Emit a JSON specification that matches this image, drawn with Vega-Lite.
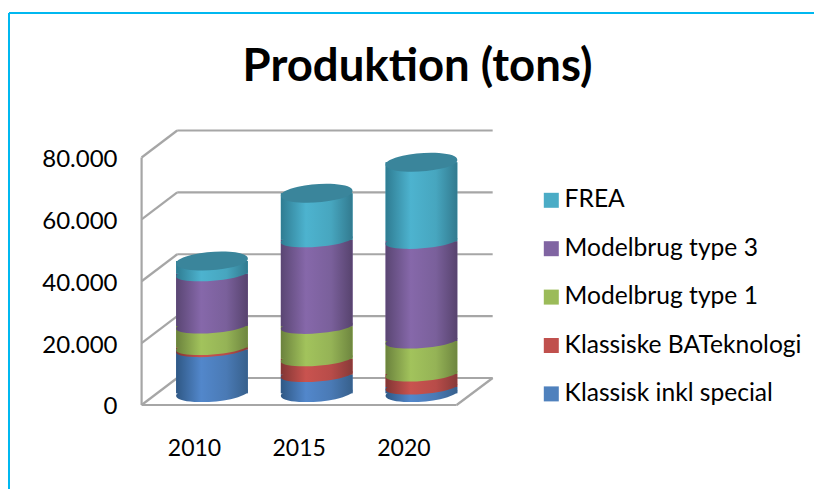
{
"$schema":"https://vega.github.io/schema/vega-lite/v6.json",
"width":805,"height":476,
"autosize":"none",
"padding":{"left":9,"top":13,"right":0,"bottom":0},
"background":"white",
"view":{"stroke":null},
"title":{"text":"Produktion (tons)","font":"Lato","fontWeight":"bold","fontSize":45.5,"color":"#000000","anchor":"middle","frame":"group","dx":6,"baseline":"alphabetic","offset":-114},
"config":{"axis":{"labelFont":"Lato","labelColor":"#000000","grid":false,"domain":false,"ticks":false,"title":null}},
"datasets":{
"rows":[
{"year":2010,"series":"Klassisk inkl special","order":1,"value":14150},
{"year":2010,"series":"Klassiske BATeknologi","order":2,"value":650},
{"year":2010,"series":"Modelbrug type 1","order":3,"value":6950},
{"year":2010,"series":"Modelbrug type 3","order":4,"value":16900},
{"year":2010,"series":"FREA","order":5,"value":4110},
{"year":2015,"series":"Klassisk inkl special","order":1,"value":6080},
{"year":2015,"series":"Klassiske BATeknologi","order":2,"value":5100},
{"year":2015,"series":"Modelbrug type 1","order":3,"value":10470},
{"year":2015,"series":"Modelbrug type 3","order":4,"value":28000},
{"year":2015,"series":"FREA","order":5,"value":14990},
{"year":2020,"series":"Klassisk inkl special","order":1,"value":2040},
{"year":2020,"series":"Klassiske BATeknologi","order":2,"value":4200},
{"year":2020,"series":"Modelbrug type 1","order":3,"value":10660},
{"year":2020,"series":"Modelbrug type 3","order":4,"value":32230},
{"year":2020,"series":"FREA","order":5,"value":25530}
],
"levels":[{"v":0},{"v":20000},{"v":40000},{"v":60000},{"v":80000}]
},
"layer":[
{"data":{"name":"levels"},
 "mark":{"type":"rule","stroke":"#a6a6a6","strokeWidth":2.2,"yOffset":-27,"y2Offset":-27},
 "encoding":{
  "x":{"datum":2008.34,"type":"quantitative","scale":{"domain":[2000.31,2038.74],"nice":false,"zero":false,"padding":0},
   "axis":{"values":[2010,2015,2020],"format":"d","orient":"bottom","offset":-41,"labelOffset":-18,"labelFontSize":23,"labelPadding":0,"labelBaseline":"middle"}},
  "x2":{"datum":2023.4},
  "y":{"field":"v","type":"quantitative","scale":{"domain":[-27152,126707],"nice":false,"zero":false},
   "axis":{"values":[0,20000,40000,60000,80000],"orient":"left","offset":-108,"labelPadding":0,"labelFontSize":24,"labelOffset":2,"labelExpr":"replace(format(datum.value,','),',','.')"}}
 }},
{"data":{"name":"levels"},
 "mark":{"type":"rule","stroke":"#a6a6a6","strokeWidth":2.2,"y2Offset":-27},
 "encoding":{"x":{"datum":2006.64,"type":"quantitative"},"x2":{"datum":2008.34},"y":{"field":"v","type":"quantitative"},"y2":{"field":"v"}}},
{"data":{"values":[{"v":0}]},
 "mark":{"type":"rule","stroke":"#a6a6a6","strokeWidth":2.2,"y2Offset":-27},
 "encoding":{"x":{"datum":2021.68,"type":"quantitative"},"x2":{"datum":2023.4},"y":{"field":"v","type":"quantitative"},"y2":{"field":"v"}}},
{"data":{"values":[{"v":0}]},
 "mark":{"type":"rule","stroke":"#a6a6a6","strokeWidth":2.2},
 "encoding":{"x":{"datum":2006.64,"type":"quantitative"},"x2":{"datum":2021.68},"y":{"field":"v","type":"quantitative"}}},
{"data":{"values":[{"v":0,"t":80000}]},
 "mark":{"type":"rule","stroke":"#a6a6a6","strokeWidth":2.2},
 "encoding":{"x":{"datum":2006.64,"type":"quantitative"},"y":{"field":"v","type":"quantitative"},"y2":{"field":"t"}}},
{"data":{"values":[{"v":-27152,"t":126707}]},
 "mark":{"type":"rule","stroke":"#00b8f0","strokeWidth":2},
 "encoding":{"x":{"datum":2000.31,"type":"quantitative"},"y":{"field":"v","type":"quantitative"},"y2":{"field":"t"}}},
{"data":{"values":[{"t":126707}]},
 "mark":{"type":"rule","stroke":"#00b8f0","strokeWidth":2},
 "encoding":{"x":{"datum":2000.31,"type":"quantitative"},"x2":{"datum":2038.74},"y":{"field":"t","type":"quantitative"}}},
{"data":{"name":"rows"},
 "transform":[{"stack":"value","groupby":["year"],"sort":[{"field":"order"}],"as":["y0","y1"]}],
 "layer":[
  {"mark":{"type":"bar","size":71.7,"orient":"vertical","yOffset":-11.7,"y2Offset":-11.7},
   "encoding":{"x":{"field":"year","type":"quantitative"},"y":{"field":"y1","type":"quantitative"},"y2":{"field":"y0"},
    "color":{"field":"series","type":"nominal","scale":{"domain":["FREA","Modelbrug type 3","Modelbrug type 1","Klassiske BATeknologi","Klassisk inkl special"],"range":["#4bacc6","#8064a2","#9bbb59","#c0504d","#4f81bd"]},
     "legend":{"orient":"none","legendX":530,"legendY":175,"title":null,"symbolType":"square","symbolSize":225,"symbolStrokeWidth":0,"labelFont":"Lato","labelFontSize":24.6,"labelColor":"#000000","rowPadding":23.4,"labelOffset":1,"labelLimit":300,"padding":0}}}},
  {"transform":[{"filter":"datum.order==1"}],"layer":[
   {"mark":{"type":"bar","size":71.7,"orient":"vertical","yOffset":-11.7,"y2Offset":-11.7,"fill":{"gradient":"linear","x1":0,"x2":1,"y1":0,"y2":0,"stops":[{"offset":0,"color":"#2f5885"},{"offset":0.35,"color":"#5287cb"},{"offset":0.7,"color":"#4a7ab5"},{"offset":1,"color":"#37608c"}]}},
    "encoding":{"x":{"field":"year","type":"quantitative"},"y":{"field":"y1","type":"quantitative"},"y2":{"field":"y0"}}},
   {"mark":{"type":"point","filled":true,"opacity":1,"size":5140,"strokeWidth":0,"yOffset":-11.7,"shape":"M-1,0.075A1.003,0.23,-4.3,1,1,1,-0.075A1.003,0.23,-4.3,1,1,-1,0.075Z","fill":{"gradient":"linear","x1":0,"x2":1,"y1":0,"y2":0,"stops":[{"offset":0,"color":"#2f5885"},{"offset":0.35,"color":"#5287cb"},{"offset":0.7,"color":"#4a7ab5"},{"offset":1,"color":"#37608c"}]}},
    "encoding":{"x":{"field":"year","type":"quantitative"},"y":{"field":"y0","type":"quantitative"}}}
  ]},
  {"transform":[{"filter":"datum.order==2"}],"layer":[
   {"mark":{"type":"bar","size":71.7,"orient":"vertical","yOffset":-11.7,"y2Offset":-11.7,"fill":{"gradient":"linear","x1":0,"x2":1,"y1":0,"y2":0,"stops":[{"offset":0,"color":"#823634"},{"offset":0.35,"color":"#c9534f"},{"offset":0.7,"color":"#b84c49"},{"offset":1,"color":"#883a38"}]}},
    "encoding":{"x":{"field":"year","type":"quantitative"},"y":{"field":"y1","type":"quantitative"},"y2":{"field":"y0"}}},
   {"mark":{"type":"point","filled":true,"opacity":1,"size":5140,"strokeWidth":0,"yOffset":-11.7,"shape":"M-1,0.075A1.003,0.195,-4.3,1,1,1,-0.075A1.003,0.195,-4.3,1,1,-1,0.075Z","fill":{"gradient":"linear","x1":0,"x2":1,"y1":0,"y2":0,"stops":[{"offset":0,"color":"#823634"},{"offset":0.35,"color":"#c9534f"},{"offset":0.7,"color":"#b84c49"},{"offset":1,"color":"#883a38"}]}},
    "encoding":{"x":{"field":"year","type":"quantitative"},"y":{"field":"y0","type":"quantitative"}}}
  ]},
  {"transform":[{"filter":"datum.order==3"}],"layer":[
   {"mark":{"type":"bar","size":71.7,"orient":"vertical","yOffset":-11.7,"y2Offset":-11.7,"fill":{"gradient":"linear","x1":0,"x2":1,"y1":0,"y2":0,"stops":[{"offset":0,"color":"#6b823d"},{"offset":0.35,"color":"#a2c35c"},{"offset":0.7,"color":"#95b356"},{"offset":1,"color":"#6e863f"}]}},
    "encoding":{"x":{"field":"year","type":"quantitative"},"y":{"field":"y1","type":"quantitative"},"y2":{"field":"y0"}}},
   {"mark":{"type":"point","filled":true,"opacity":1,"size":5140,"strokeWidth":0,"yOffset":-11.7,"shape":"M-1,0.075A1.003,0.195,-4.3,1,1,1,-0.075A1.003,0.195,-4.3,1,1,-1,0.075Z","fill":{"gradient":"linear","x1":0,"x2":1,"y1":0,"y2":0,"stops":[{"offset":0,"color":"#6b823d"},{"offset":0.35,"color":"#a2c35c"},{"offset":0.7,"color":"#95b356"},{"offset":1,"color":"#6e863f"}]}},
    "encoding":{"x":{"field":"year","type":"quantitative"},"y":{"field":"y0","type":"quantitative"}}}
  ]},
  {"transform":[{"filter":"datum.order==4"}],"layer":[
   {"mark":{"type":"bar","size":71.7,"orient":"vertical","yOffset":-11.7,"y2Offset":-11.7,"fill":{"gradient":"linear","x1":0,"x2":1,"y1":0,"y2":0,"stops":[{"offset":0,"color":"#5a4673"},{"offset":0.35,"color":"#8668aa"},{"offset":0.7,"color":"#7a609b"},{"offset":1,"color":"#57436e"}]}},
    "encoding":{"x":{"field":"year","type":"quantitative"},"y":{"field":"y1","type":"quantitative"},"y2":{"field":"y0"}}},
   {"mark":{"type":"point","filled":true,"opacity":1,"size":5140,"strokeWidth":0,"yOffset":-11.7,"shape":"M-1,0.075A1.003,0.195,-4.3,1,1,1,-0.075A1.003,0.195,-4.3,1,1,-1,0.075Z","fill":{"gradient":"linear","x1":0,"x2":1,"y1":0,"y2":0,"stops":[{"offset":0,"color":"#5a4673"},{"offset":0.35,"color":"#8668aa"},{"offset":0.7,"color":"#7a609b"},{"offset":1,"color":"#57436e"}]}},
    "encoding":{"x":{"field":"year","type":"quantitative"},"y":{"field":"y0","type":"quantitative"}}}
  ]},
  {"transform":[{"filter":"datum.order==5"}],"layer":[
   {"mark":{"type":"bar","size":71.7,"orient":"vertical","yOffset":-11.7,"y2Offset":-11.7,"fill":{"gradient":"linear","x1":0,"x2":1,"y1":0,"y2":0,"stops":[{"offset":0,"color":"#2f7c92"},{"offset":0.35,"color":"#4db3cf"},{"offset":0.7,"color":"#47a6bf"},{"offset":1,"color":"#327a8f"}]}},
    "encoding":{"x":{"field":"year","type":"quantitative"},"y":{"field":"y1","type":"quantitative"},"y2":{"field":"y0"}}},
   {"mark":{"type":"point","filled":true,"opacity":1,"size":5140,"strokeWidth":0,"yOffset":-11.7,"shape":"M-1,0.075A1.003,0.195,-4.3,1,1,1,-0.075A1.003,0.195,-4.3,1,1,-1,0.075Z","fill":{"gradient":"linear","x1":0,"x2":1,"y1":0,"y2":0,"stops":[{"offset":0,"color":"#2f7c92"},{"offset":0.35,"color":"#4db3cf"},{"offset":0.7,"color":"#47a6bf"},{"offset":1,"color":"#327a8f"}]}},
    "encoding":{"x":{"field":"year","type":"quantitative"},"y":{"field":"y0","type":"quantitative"}}},
   {"mark":{"type":"point","filled":true,"opacity":1,"size":5140,"strokeWidth":0,"yOffset":-11.7,"shape":"M-1,0.075A1.003,0.25,-4.3,1,1,1,-0.075A1.003,0.25,-4.3,1,1,-1,0.075Z","fill":"#3a859b"},
    "encoding":{"x":{"field":"year","type":"quantitative"},"y":{"field":"y1","type":"quantitative"}}}
  ]}
 ]}
]
}
